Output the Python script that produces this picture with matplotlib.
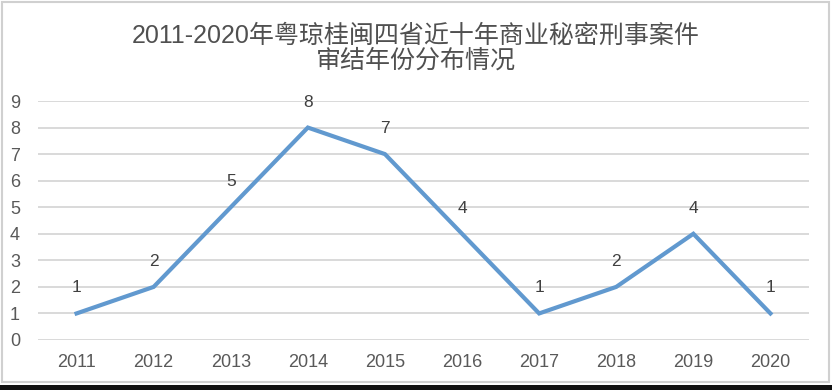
import matplotlib
matplotlib.use("Agg")
import matplotlib.pyplot as plt
from matplotlib.patches import Rectangle

plt.rcParams['font.family'] = ['Liberation Sans', 'Noto Sans CJK SC', 'DejaVu Sans']

years = ['2011', '2012', '2013', '2014', '2015', '2016', '2017', '2018', '2019', '2020']
cases = [1, 2, 5, 8, 7, 4, 1, 2, 4, 1]
title_lines = ['2011-2020年粤琼桂闽四省近十年商业秘密刑事案件', '审结年份分布情况']

fig = plt.figure(figsize=(8.32, 3.9), dpi=100)
ax = fig.add_axes([38 / 832, 1 - 340 / 390, 771 / 832, 239 / 390])

x = list(range(len(years)))
ax.plot(x, cases, color='#6199cf', linewidth=3.0, solid_joinstyle='miter', zorder=3)
for xi, v in zip(x, cases):
    ax.annotate(str(v), (xi, v), xytext=(0, 13), textcoords='offset points',
                ha='center', va='bottom', fontsize=12.5, color='#404040')

ax.set_xlim(-0.5, len(years) - 0.5)
ax.set_ylim(0, 9)
ax.set_yticks(range(0, 10))
ax.set_xticks(x)
ax.set_xticklabels(years)
ax.yaxis.grid(True, color='#d9d9d9', linewidth=1.4)
ax.set_axisbelow(True)
for s in ax.spines.values():
    s.set_visible(False)
ax.tick_params(length=0, labelsize=13, labelcolor='#595959')
ax.tick_params(axis='x', pad=10)
ax.tick_params(axis='y', pad=13)

fig.text(0.5, 0.908, title_lines[0], ha='center', va='center', fontsize=18, color='#505050')
fig.text(0.5, 0.845, title_lines[1], ha='center', va='center', fontsize=18, color='#505050')

# image frame
fig.patches.append(Rectangle((0.002, 0.02), 0.994, 0.975, transform=fig.transFigure,
                             fill=False, edgecolor='#d0d0d0', linewidth=1.5))
fig.patches.append(Rectangle((0, 0), 1, 0.012, transform=fig.transFigure,
                             facecolor='#111111', edgecolor='none'))

fig.savefig('out.png', dpi=100)
